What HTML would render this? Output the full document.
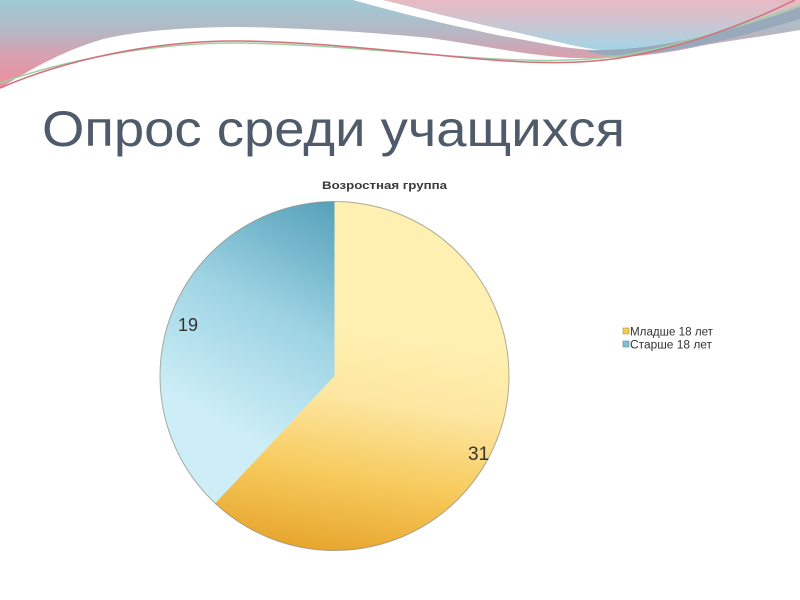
<!DOCTYPE html>
<html>
<head>
<meta charset="utf-8">
<style>
  html, body { margin: 0; padding: 0; background: #ffffff; }
  body { width: 800px; height: 600px; overflow: hidden; }
  svg { display: block; }
</style>
</head>
<body>
<svg width="800" height="600" viewBox="0 0 800 600" xmlns="http://www.w3.org/2000/svg">
  <defs>
    <linearGradient id="bandG" gradientUnits="userSpaceOnUse" x1="0" y1="0" x2="0" y2="90">
      <stop offset="0" stop-color="#9ecbd6"/>
      <stop offset="0.35" stop-color="#b4b8c4"/>
      <stop offset="0.6" stop-color="#d6a2b0"/>
      <stop offset="1" stop-color="#f08a9c"/>
    </linearGradient>
    <linearGradient id="blobG" gradientUnits="userSpaceOnUse" x1="0" y1="0" x2="0" y2="52">
      <stop offset="0" stop-color="#e9b9c2"/>
      <stop offset="0.5" stop-color="#c8c6d3"/>
      <stop offset="1" stop-color="#9fd6e6"/>
    </linearGradient>
    <linearGradient id="yelG" gradientUnits="userSpaceOnUse" x1="350" y1="330" x2="315" y2="552">
      <stop offset="0" stop-color="#fef0b0"/>
      <stop offset="0.3" stop-color="#fde6a0"/>
      <stop offset="0.65" stop-color="#f7ca5c"/>
      <stop offset="1" stop-color="#e7a52c"/>
    </linearGradient>
    <linearGradient id="bluG" gradientUnits="userSpaceOnUse" x1="330" y1="205" x2="215" y2="420">
      <stop offset="0" stop-color="#58a2bb"/>
      <stop offset="0.5" stop-color="#9dd3e3"/>
      <stop offset="1" stop-color="#cdeef6"/>
    </linearGradient>
  </defs>

  <!-- top decorative waves -->
  <path d="M0,0 L800,0 L800,30 C760,37 720,42 700,46 C660,55 620,59 575,58 C530,56 480,45 430,38 C370,32 300,28 240,27 C180,27 130,32 100,40 C60,52 30,70 0,88 Z" fill="url(#bandG)"/>
  <path d="M353,0 L383,0 C400,4 415,8 430,12 C455,18 475,23 497,28 C520,33 540,38 563,43 C580,47 595,50 612,51 C595,51 580,49 563,47 C540,43 520,39 497,35 C470,29 450,25 430,20 C400,13 375,6 353,0 Z" fill="#ffffff"/>
  <path d="M383,0 C400,4 415,8 430,12 C455,18 475,23 497,28 C520,33 540,38 563,43 C580,47 595,50 620,51 C680,50 740,32 800,8 L800,0 Z" fill="url(#blobG)"/>
  <path d="M585,50 C650,52 720,35 800,7 L800,19 C720,43 660,57 605,55 C595,54 590,52 585,50 Z" fill="#98a9bc"/>
  <path d="M0,83 C60,62 150,42 240,43 C320,44 400,53 480,58 C540,62 580,61 620,56 C690,44 755,20 800,6" fill="none" stroke="#9fd0a0" stroke-width="1.5"/>
  <path d="M0,88 C60,62 150,40 240,41 C320,42 400,52 480,59 C540,64 580,64 620,58 C690,46 750,22 795,0" fill="none" stroke="#d2707f" stroke-width="1.5"/>

  <!-- Title -->
  <text x="42" y="146" font-family="Liberation Sans, Arial, sans-serif" font-size="50" fill="#4f5a6b" textLength="583" lengthAdjust="spacingAndGlyphs">Опрос среди учащихся</text>

  <!-- Chart title -->
  <text x="322" y="189" font-family="Liberation Sans, Arial, sans-serif" font-size="11" font-weight="bold" fill="#3a3a3a" textLength="125" lengthAdjust="spacingAndGlyphs">Возростная группа</text>

  <!-- Pie -->
  <path d="M334.5,376 L334.5,201.5 A174.5,174.5 0 1,1 215.1,503.2 Z" fill="url(#yelG)"/>
  <path d="M334.5,376 L215.1,503.2 A174.5,174.5 0 0,1 334.5,201.5 Z" fill="url(#bluG)"/>
  <circle cx="334.5" cy="376" r="174.5" fill="none" stroke="#8a8a80" stroke-width="1" stroke-opacity="0.7"/>

  <!-- data labels -->
  <text x="178" y="331" font-family="Liberation Sans, Arial, sans-serif" font-size="18" fill="#333333">19</text>
  <text x="468" y="460" font-family="Liberation Sans, Arial, sans-serif" font-size="19" fill="#333333">31</text>

  <!-- Legend -->
  <rect x="623" y="328" width="6" height="6" fill="#f2c955" stroke="#b89a40" stroke-width="0.6"/>
  <text x="630" y="335.5" font-family="Liberation Sans, Arial, sans-serif" font-size="11.5" fill="#333333" textLength="83" lengthAdjust="spacingAndGlyphs">Младше 18 лет</text>
  <rect x="623" y="341" width="6" height="6" fill="#7fbfd3" stroke="#4f8ea0" stroke-width="0.6"/>
  <text x="630" y="348.5" font-family="Liberation Sans, Arial, sans-serif" font-size="11.5" fill="#333333" textLength="82" lengthAdjust="spacingAndGlyphs">Старше 18 лет</text>
</svg>
</body>
</html>
